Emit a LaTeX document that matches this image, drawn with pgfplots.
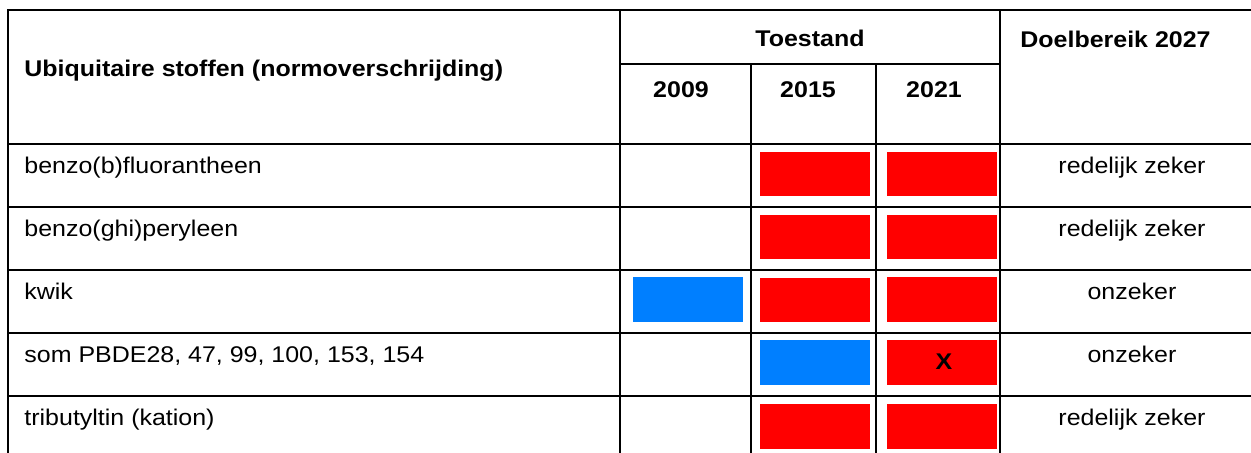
\documentclass[border=0pt]{standalone}
\usepackage{pgfplots}
\pgfplotsset{compat=1.18}
\usepackage{fontspec}
\setmainfont{Liberation Sans}
\definecolor{cred}{RGB}{255,0,0}
\definecolor{cblue}{RGB}{0,127,255}
\begin{document}
\begin{tikzpicture}
\begin{axis}[
  width=625.5pt, height=226.5pt, scale only axis,
  xmin=0, xmax=1251, ymin=0, ymax=453, y dir=reverse,
  hide axis, clip=true,
]
% --- status cells (x: column extent in px, y: row extent in px)
% row 1 benzo(b)fluorantheen
\addplot[fill=cred, draw=none] coordinates {(760,152) (870,152) (870,196.5) (760,196.5)} --cycle;
\addplot[fill=cred, draw=none] coordinates {(887,152) (997,152) (997,196.5) (887,196.5)} --cycle;
% row 2 benzo(ghi)peryleen
\addplot[fill=cred, draw=none] coordinates {(760,215) (870,215) (870,259.5) (760,259.5)} --cycle;
\addplot[fill=cred, draw=none] coordinates {(887,215) (997,215) (997,259.5) (887,259.5)} --cycle;
% row 3 kwik
\addplot[fill=cblue, draw=none] coordinates {(633,277.5) (743,277.5) (743,322) (633,322)} --cycle;
\addplot[fill=cred, draw=none] coordinates {(760,278) (870,278) (870,322.5) (760,322.5)} --cycle;
\addplot[fill=cred, draw=none] coordinates {(887,277.5) (997,277.5) (997,322) (887,322)} --cycle;
% row 4 som PBDE
\addplot[fill=cblue, draw=none] coordinates {(760,340.5) (870,340.5) (870,385) (760,385)} --cycle;
\addplot[fill=cred, draw=none] coordinates {(887,340.5) (997,340.5) (997,385) (887,385)} --cycle;
% row 5 tributyltin
\addplot[fill=cred, draw=none] coordinates {(760,404) (870,404) (870,448.5) (760,448.5)} --cycle;
\addplot[fill=cred, draw=none] coordinates {(887,404) (997,404) (997,448.5) (887,448.5)} --cycle;

% --- grid lines
\draw[line width=1pt] (axis cs:7,10) -- (axis cs:1252,10);
\draw[line width=1pt] (axis cs:620,64) -- (axis cs:1000,64);
\draw[line width=1pt] (axis cs:7,144) -- (axis cs:1252,144);
\draw[line width=1pt] (axis cs:7,207) -- (axis cs:1252,207);
\draw[line width=1pt] (axis cs:7,270) -- (axis cs:1252,270);
\draw[line width=1pt] (axis cs:7,333) -- (axis cs:1252,333);
\draw[line width=1pt] (axis cs:7,396) -- (axis cs:1252,396);
\draw[line width=1pt] (axis cs:8,10) -- (axis cs:8,454);
\draw[line width=1pt] (axis cs:620,10) -- (axis cs:620,454);
\draw[line width=1pt] (axis cs:751,64) -- (axis cs:751,454);
\draw[line width=1pt] (axis cs:876,64) -- (axis cs:876,454);
\draw[line width=1pt] (axis cs:1000,10) -- (axis cs:1000,454);

% --- header text
\begin{scope}[every node/.style={inner sep=0pt, font=\fontsize{11.35}{13}\selectfont\bfseries, xscale=1.1}]
\node[anchor=base west] at (axis cs:24,77) {Ubiquitaire stoffen (normoverschrijding)};
\node[anchor=base] at (axis cs:810,47) {Toestand};
\node[anchor=base] at (axis cs:681,98) {2009};
\node[anchor=base] at (axis cs:808,98) {2015};
\node[anchor=base] at (axis cs:934,98) {2021};
\node[anchor=base west] at (axis cs:1020,48) {Doelbereik 2027};
\node[anchor=base] at (axis cs:944,370) {X};
\end{scope}

% --- body text
\begin{scope}[every node/.style={inner sep=0pt, font=\fontsize{11.35}{13}\selectfont, xscale=1.1}]
\node[anchor=base west] at (axis cs:24,174) {benzo(b)fluorantheen};
\node[anchor=base west] at (axis cs:24,237) {benzo(ghi)peryleen};
\node[anchor=base west] at (axis cs:24,300) {kwik};
\node[anchor=base west] at (axis cs:24,363) {som PBDE28, 47, 99, 100, 153, 154};
\node[anchor=base west] at (axis cs:24,426) {tributyltin (kation)};
\node[anchor=base] at (axis cs:1132,174) {redelijk zeker};
\node[anchor=base] at (axis cs:1132,237) {redelijk zeker};
\node[anchor=base] at (axis cs:1132,300) {onzeker};
\node[anchor=base] at (axis cs:1132,363) {onzeker};
\node[anchor=base] at (axis cs:1132,426) {redelijk zeker};
\end{scope}
\end{axis}
\pgfresetboundingbox
\useasboundingbox (current axis.south west) rectangle (current axis.north east);
\end{tikzpicture}
\end{document}
